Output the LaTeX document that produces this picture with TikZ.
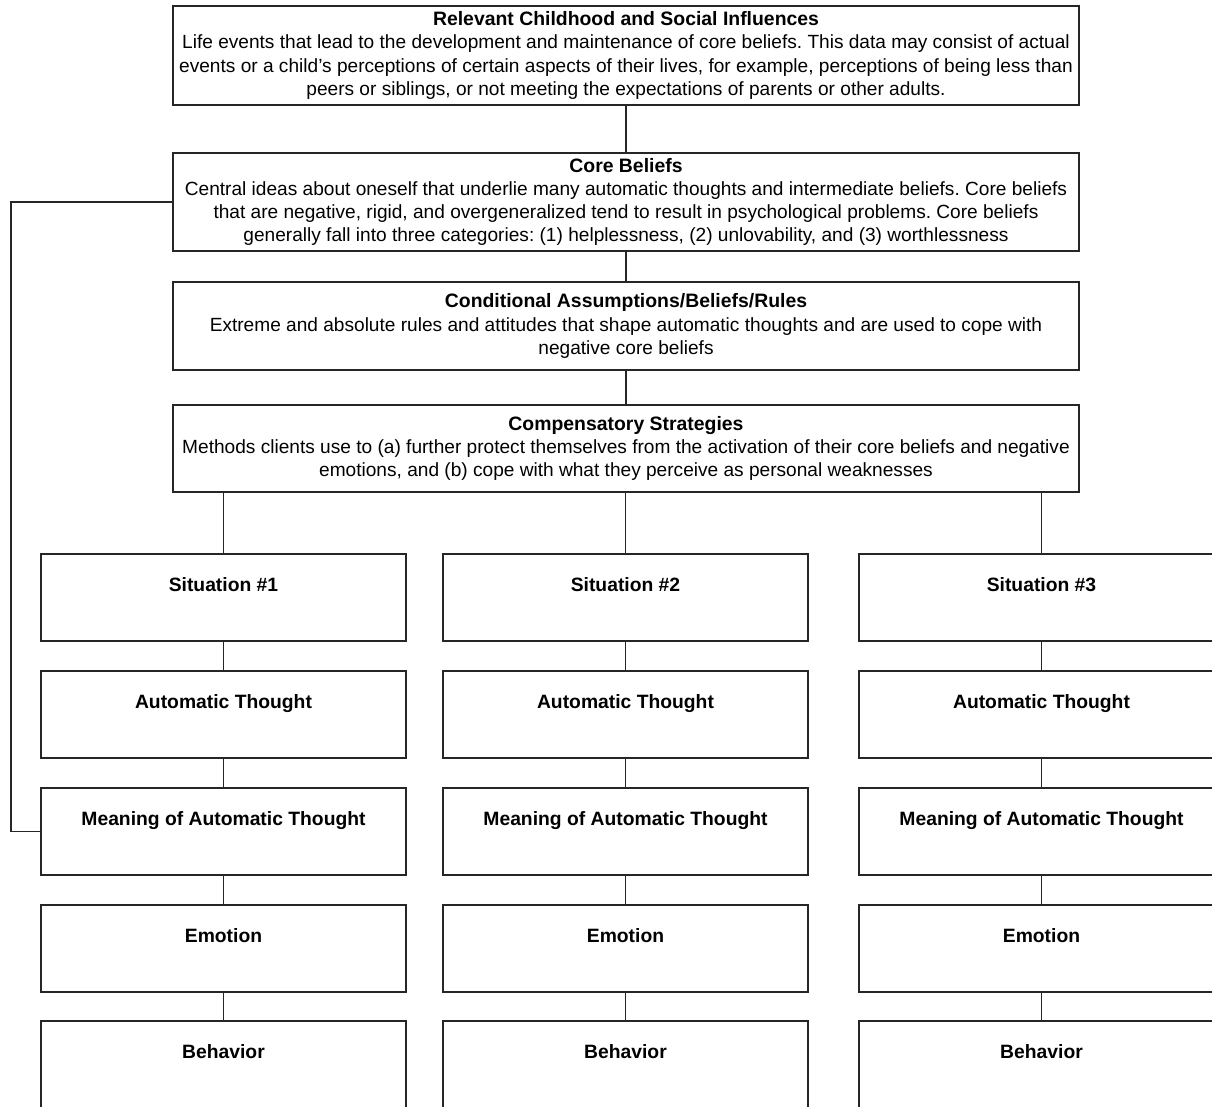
\documentclass[tikz,border=0pt]{standalone}
\usepackage{fontspec}
\setmainfont{Liberation Sans}
\frenchspacing
\begin{document}
\begin{tikzpicture}[x=1pt,y=-1pt,
  box/.style={draw=black!85, line width=1.2pt, rectangle, inner sep=0pt, fill=white},
  bigbox/.style={box, minimum width=906pt, align=center, font=\fontsize{19.1}{23.2}\selectfont},
  smallbox/.style={box, minimum width=365pt, minimum height=87pt},
  ttl/.style={anchor=north, yshift=-23.5pt, inner sep=0pt, font=\fontsize{19.3}{21}\selectfont\bfseries},
  conn/.style={draw=black!85, line width=1.2pt}]
\useasboundingbox (0,0) rectangle (1212,1106);
\clip (0,0) rectangle (1212,1106);
\fill[white] (0,0) rectangle (1212,1106);

\node[bigbox, minimum height=99pt] (top) at (626,55.5) {{\fontsize{19.4}{23.2}\selectfont\bfseries Relevant Childhood and Social Influences}\\Life events that lead to the development and maintenance of core beliefs. This data may consist of actual\\events or a child’s perceptions of certain aspects of their lives, for example, perceptions of being less than\\peers or siblings, or not meeting the expectations of parents or other adults.};
\node[bigbox, minimum height=98pt] (core) at (626,202) {{\fontsize{19.4}{23.2}\selectfont\bfseries Core Beliefs}\\Central ideas about oneself that underlie many automatic thoughts and intermediate beliefs. Core beliefs\\that are negative, rigid, and overgeneralized tend to result in psychological problems. Core beliefs\\generally fall into three categories: (1) helplessness, (2) unlovability, and (3) worthlessness};
\node[bigbox, minimum height=88pt] (cond) at (626,326) {{\fontsize{19.4}{23.2}\selectfont\bfseries Conditional Assumptions/Beliefs/Rules}\\Extreme and absolute rules and attitudes that shape automatic thoughts and are used to cope with\\negative core beliefs};
\node[bigbox, minimum height=87pt] (comp) at (626,448.5) {{\fontsize{19.4}{23.2}\selectfont\bfseries Compensatory Strategies}\\Methods clients use to (a) further protect themselves from the activation of their core beliefs and negative\\emotions, and (b) cope with what they perceive as personal weaknesses};

\foreach \c/\x in {1/223.5, 2/625.5, 3/1041.5} {
  \node[smallbox, label={[ttl]north:Situation \#\c}] (s\c) at (\x,597.5) {};
  \node[smallbox, label={[ttl]north:Automatic Thought}] (a\c) at (\x,714.5) {};
  \node[smallbox, label={[ttl]north:Meaning of Automatic Thought}] (m\c) at (\x,831.5) {};
  \node[smallbox, label={[ttl]north:Emotion}] (e\c) at (\x,948.5) {};
  \node[smallbox, label={[ttl]north:Behavior}] (b\c) at (\x,1064.5) {};
  \draw[conn] (s\c) -- (a\c);
  \draw[conn] (a\c) -- (m\c);
  \draw[conn] (m\c) -- (e\c);
  \draw[conn] (e\c) -- (b\c);
  \draw[conn] (comp.south -| s\c.north) -- (s\c.north);
}

\draw[conn] (top) -- (core);
\draw[conn] (core) -- (cond);
\draw[conn] (cond) -- (comp);

\coordinate (lx) at (11,202);
\draw[conn] (core.west) -- (lx) |- (m1.west);
\end{tikzpicture}
\end{document}
